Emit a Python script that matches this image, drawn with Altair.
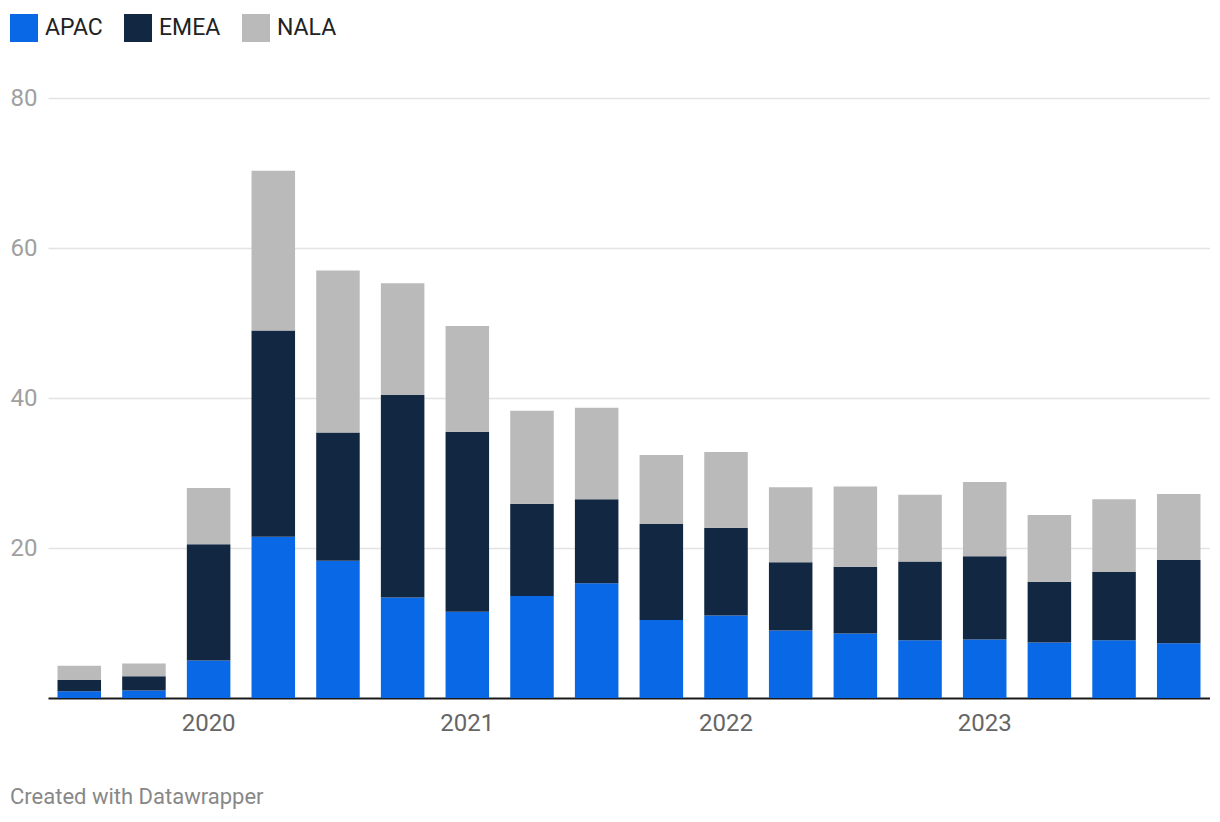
import altair as alt
import pandas as pd

quarters = ["2019 Q3", "2019 Q4",
            "2020 Q1", "2020 Q2", "2020 Q3", "2020 Q4",
            "2021 Q1", "2021 Q2", "2021 Q3", "2021 Q4",
            "2022 Q1", "2022 Q2", "2022 Q3", "2022 Q4",
            "2023 Q1", "2023 Q2", "2023 Q3", "2023 Q4"]
regions = ["APAC", "EMEA", "NALA"]
apac = [0.9, 1.0, 5.0, 21.5, 18.3, 13.4, 11.5, 13.6, 15.3, 10.4, 11.0, 9.0, 8.6, 7.7, 7.8, 7.4, 7.7, 7.3]
emea = [1.5, 1.9, 15.5, 27.5, 17.1, 27.0, 24.0, 12.3, 11.2, 12.8, 11.7, 9.1, 8.9, 10.5, 11.1, 8.1, 9.1, 11.1]
nala = [1.9, 1.7, 7.5, 21.3, 21.6, 14.9, 14.1, 12.4, 12.2, 9.2, 10.1, 10.0, 10.7, 8.9, 9.9, 8.9, 9.7, 8.8]
colors = ["#0868e6", "#122742", "#bababa"]
y_ticks = [20, 40, 60, 80]

rows = []
for i, q in enumerate(quarters):
    for k, (r, vals) in enumerate(zip(regions, [apac, emea, nala])):
        rows.append({"quarter": q, "region": r, "value": vals[i], "order": k})
df = pd.DataFrame(rows)

FONT = "Roboto"

chart = alt.Chart(df).mark_bar().encode(
    x=alt.X("quarter:N", sort=quarters,
            scale=alt.Scale(paddingInner=0.327, paddingOuter=0.147),
            axis=alt.Axis(title=None, ticks=False, labelAngle=0,
                          labelExpr="indexof(datum.value, 'Q1') >= 0 ? slice(datum.value, 0, 4) : ''",
                          labelFont=FONT, labelFontSize=24, labelColor="#666666",
                          labelPadding=13, domainColor="#1a1a1a", domainWidth=2,
                          grid=False)),
    y=alt.Y("value:Q", stack="zero",
            scale=alt.Scale(domain=[0, 80], nice=False),
            axis=alt.Axis(title=None, values=y_ticks, ticks=False, domain=False,
                          labelAlign="left", labelPadding=38, labelFont=FONT,
                          labelFontSize=24, labelColor="#a0a0a0",
                          gridColor="#e3e3e3", gridWidth=1.5)),
    color=alt.Color("region:N", sort=regions,
                    scale=alt.Scale(domain=regions, range=colors),
                    legend=alt.Legend(title=None, orient="none", legendX=-38, legendY=-84,
                                      direction="horizontal", symbolType="square",
                                      symbolSize=784, symbolStrokeWidth=0,
                                      symbolOpacity=1,
                                      labelFont=FONT, labelFontSize=23, labelColor="#222222",
                                      labelOffset=7, columnPadding=21, padding=0)),
    order=alt.Order("order:Q", sort="ascending"),
).properties(
    width=1162,
    height=600,
    padding={"left": 40, "top": 90, "right": 0, "bottom": 114},
    autosize=alt.AutoSizeParams(type="none"),
    title=alt.TitleParams("Created with Datawrapper", orient="bottom", anchor="start",
                          font=FONT, fontSize=22, fontWeight="normal", color="#888888",
                          dx=0, offset=52),
).configure_view(stroke=None)

chart.save("out.html", embed_options={"renderer": "svg", "actions": False})
